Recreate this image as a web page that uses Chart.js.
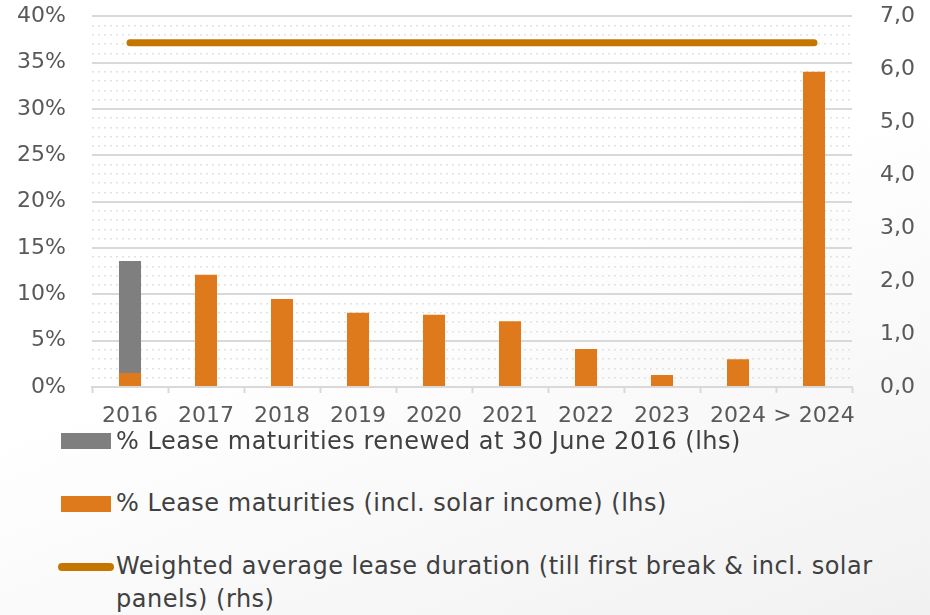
<!DOCTYPE html>
<html>
<head>
<meta charset="utf-8">
<script src="https://cdn.jsdelivr.net/npm/chart.js@4"></script>
<style>
  html, body { margin: 0; padding: 0; }
  body {
    width: 930px; height: 615px; overflow: hidden; position: relative;
    background: linear-gradient(160deg, #ffffff 45%, #f1f1f1 100%);
    font-family: "DejaVu Sans", sans-serif; color: #404040;
  }
  #wrap { position: absolute; left: 0; top: 0; width: 930px; height: 432px; }
  .leg { position: absolute; left: 0; font-size: 24px; letter-spacing: 0.5px; line-height: 33px; white-space: nowrap; }
  .leg .txt { position: absolute; left: 116px; top: 0; }
  .box { position: absolute; left: 61px; width: 50px; height: 16px; }
  .ln { position: absolute; left: 58px; width: 56px; height: 8px; border-radius: 4px; }
</style>
</head>
<body>
<div id="wrap"><canvas id="chart"></canvas></div>

<div class="leg" style="top:425px">
  <div class="box" style="top:8px;background:#7f7f7f"></div>
  <div class="txt">% Lease maturities renewed at 30 June 2016 (lhs)</div>
</div>
<div class="leg" style="top:487px">
  <div class="box" style="top:9px;background:#df7a1c"></div>
  <div class="txt">% Lease maturities (incl. solar income) (lhs)</div>
</div>
<div class="leg" style="top:550px">
  <div class="ln" style="top:13px;background:#c57600"></div>
  <div class="txt">Weighted average lease duration (till first break &amp; incl. solar<br>panels) (rhs)</div>
</div>

<script>
// categories and values
const years = ['2016', '2017', '2018', '2019', '2020', '2021', '2022', '2023', '2024', '> 2024'];
const leaseMaturities = [1.5, 12.1, 9.5, 8.0, 7.8, 7.1, 4.1, 1.3, 3.0, 34.0];   // % (lhs)
const renewed = [12.1, 0, 0, 0, 0, 0, 0, 0, 0, 0];                               // % (lhs), stacked on top
const wald = [6.5, 6.5, 6.5, 6.5, 6.5, 6.5, 6.5, 6.5, 6.5, 6.5];                 // years (rhs)

const tickFont = { family: 'DejaVu Sans', size: 22 };
const tickColor = '#595959';
const gridColor = '#d9d9d9';

new Chart(document.getElementById('chart'), {
  data: {
    labels: years,
    datasets: [
      {
        type: 'line',
        label: 'Weighted average lease duration (till first break & incl. solar panels) (rhs)',
        data: wald,
        yAxisID: 'y1',
        borderColor: '#c57600',
        borderWidth: 7,
        borderCapStyle: 'round',
        pointRadius: 0,
        order: 0
      },
      {
        type: 'bar',
        label: '% Lease maturities (incl. solar income) (lhs)',
        data: leaseMaturities,
        backgroundColor: '#df7a1c',
        yAxisID: 'y',
        barPercentage: 0.58,
        categoryPercentage: 0.5,
        order: 1
      },
      {
        type: 'bar',
        label: '% Lease maturities renewed at 30 June 2016 (lhs)',
        data: renewed,
        backgroundColor: '#7f7f7f',
        yAxisID: 'y',
        barPercentage: 0.58,
        categoryPercentage: 0.5,
        order: 1
      }
    ]
  },
  options: {
    responsive: true,
    maintainAspectRatio: false,
    animation: false,
    layout: { padding: 0 },
    plugins: { legend: { display: false }, tooltip: { enabled: false } },
    scales: {
      x: {
        stacked: true,
        offset: true,
        grid: { offset: true, drawOnChartArea: false, drawTicks: true, tickLength: 6, tickColor: gridColor, tickWidth: 2 },
        border: { color: gridColor, width: 2 },
        ticks: { font: tickFont, color: tickColor, padding: 10, maxRotation: 0, autoSkip: false },
        afterFit: s => { s.height = 45; }
      },
      yMinor: {
        position: 'left',
        min: 0, max: 40,
        stacked: true,
        ticks: { display: false, stepSize: 1, padding: 0 },
        grid: {
          drawTicks: false,
          lineWidth: 1.5,
          color: c => (c.tick && c.tick.value % 5 === 0) ? 'rgba(0,0,0,0)' : '#e2e2e2'
        },
        border: { display: false, dash: [2, 4] },
        afterFit: s => { s.width = 0; }
      },
      y: {
        position: 'left',
        stacked: true,
        min: 0, max: 40,
        ticks: { stepSize: 5, font: tickFont, color: tickColor, padding: 3, callback: v => v + '%' },
        grid: { color: gridColor, lineWidth: 2, drawTicks: true, tickLength: 23, tickColor: 'rgba(0,0,0,0)' },
        border: { display: false },
        afterFit: s => { s.width = 92; }
      },
      y1: {
        position: 'right',
        min: 0, max: 7,
        ticks: { stepSize: 1, font: tickFont, color: tickColor, padding: 3, callback: v => v.toFixed(1).replace('.', ',') },
        grid: { drawOnChartArea: false, drawTicks: true, tickLength: 25, tickColor: 'rgba(0,0,0,0)' },
        border: { display: false },
        afterFit: s => { s.width = 78; }
      }
    }
  }
});
</script>
</body>
</html>
